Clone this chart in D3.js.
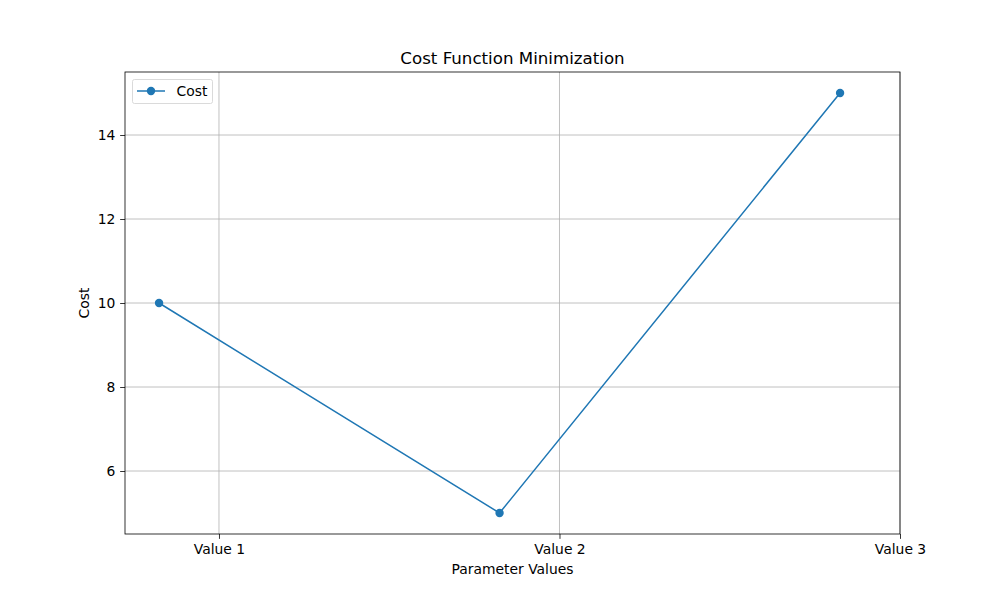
<!DOCTYPE html>
<html><head><meta charset="utf-8">
<script src="https://cdn.jsdelivr.net/npm/d3@7"></script>
<style>body{margin:0;background:#fff}svg{display:block}text{font-family:"DejaVu Sans",sans-serif;}</style>
</head><body>
<svg id="c" width="1000" height="600"></svg>
<script>
const categories = ["Value 1", "Value 2", "Value 3"];
const costValues = [10, 5, 15];
const yTicks = [6, 8, 10, 12, 14];
const tickOffset = 0.176;

const W = 1000, H = 600;
const m = {left: 125, right: 100, top: 72, bottom: 66};
const svg = d3.select("#c");
svg.append("rect").attr("width", W).attr("height", H).attr("fill", "#fff");

const x = d3.scaleLinear().domain([-0.1, 2.176]).range([m.left, W - m.right]);
const y = d3.scaleLinear().domain([4.5, 15.5]).range([H - m.bottom, m.top]);

const xTickPos = categories.map((c, i) => i + tickOffset);
const g = svg.append("g");

// grid
g.selectAll(".gx").data(xTickPos).enter().append("line")
  .attr("x1", d => x(d)).attr("x2", d => x(d))
  .attr("y1", m.top).attr("y2", H - m.bottom)
  .attr("stroke", "#b0b0b0").attr("stroke-width", 0.8);
g.selectAll(".gy").data(yTicks).enter().append("line")
  .attr("x1", m.left).attr("x2", W - m.right)
  .attr("y1", d => y(d)).attr("y2", d => y(d))
  .attr("stroke", "#b0b0b0").attr("stroke-width", 0.8);

// axes
const fs = 13.89;
const xAxis = d3.axisBottom(x).tickValues(xTickPos).tickFormat((d, i) => categories[i]).tickSize(4.86).tickPadding(4.86);
const yAxis = d3.axisLeft(y).tickValues(yTicks).tickSize(4.86).tickPadding(4.86);
const xa = svg.append("g").attr("transform", `translate(0,${H - m.bottom})`).call(xAxis);
const ya = svg.append("g").attr("transform", `translate(${m.left},0)`).call(yAxis);
[xa, ya].forEach(a => {
  a.select(".domain").remove();
  a.selectAll(".tick line").attr("stroke", "#000").attr("stroke-width", 0.8);
  a.selectAll(".tick text").attr("fill", "#000").attr("font-size", fs).attr("font-family", "DejaVu Sans");
});
xa.selectAll(".tick text").attr("dy", "0.76em");

// frame
svg.append("rect").attr("x", m.left).attr("y", m.top)
  .attr("width", W - m.left - m.right).attr("height", H - m.top - m.bottom)
  .attr("fill", "none").attr("stroke", "#000").attr("stroke-width", 0.8);

// line
const color = "#1f77b4";
svg.append("path").datum(costValues)
  .attr("d", d3.line().x((d, i) => x(i)).y(d => y(d)))
  .attr("fill", "none").attr("stroke", color).attr("stroke-width", 1.5);
svg.selectAll(".pt").data(costValues).enter().append("circle")
  .attr("cx", (d, i) => x(i)).attr("cy", d => y(d)).attr("r", 4.2).attr("fill", color);

// title & labels
svg.append("text").attr("x", (m.left + W - m.right) / 2).attr("y", 63.7)
  .attr("text-anchor", "middle").attr("font-size", 16.67).text("Cost Function Minimization");
svg.append("text").attr("x", (m.left + W - m.right) / 2).attr("y", 573.5)
  .attr("text-anchor", "middle").attr("font-size", fs).text("Parameter Values");
svg.append("text").attr("transform", `translate(89,${(m.top + H - m.bottom) / 2}) rotate(-90)`)
  .attr("text-anchor", "middle").attr("font-size", fs).text("Cost");

// legend
const lg = svg.append("g");
lg.append("rect").attr("x", 132.5).attr("y", 79.5).attr("width", 80).attr("height", 24).attr("rx", 2)
  .attr("fill", "#fff").attr("fill-opacity", 0.8).attr("stroke", "#d0d0d0").attr("stroke-width", 0.8);
lg.append("line").attr("x1", 137).attr("x2", 165).attr("y1", 91).attr("y2", 91)
  .attr("stroke", color).attr("stroke-width", 1.5);
lg.append("circle").attr("cx", 151).attr("cy", 91).attr("r", 4.2).attr("fill", color);
lg.append("text").attr("x", 176.5).attr("y", 96).attr("font-size", fs).text("Cost");
</script>
</body></html>
